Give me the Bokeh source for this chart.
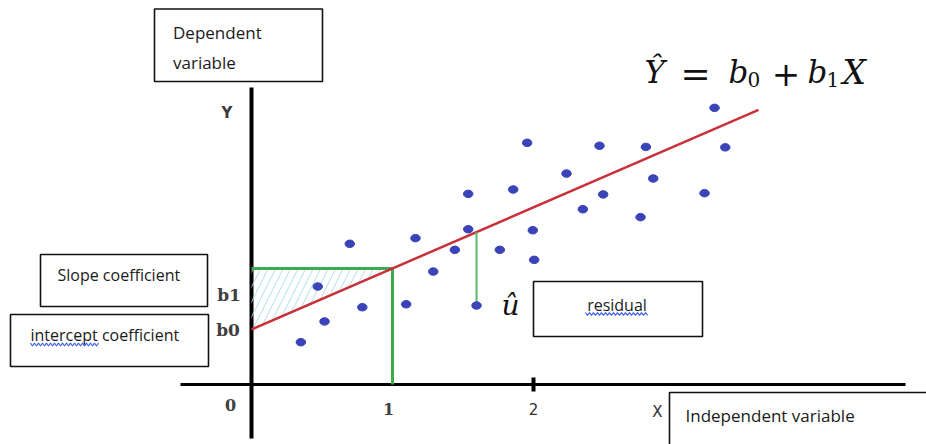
import numpy as np
from bokeh.plotting import figure
from bokeh.models import Range1d, ColumnDataSource
from bokeh.core.properties import value
from bokeh.embed import file_html
from bokeh.resources import INLINE

# ---------------- data (chart units) ----------------
x_vals = [0.350, 0.518, 0.470, 0.697, 0.786, 1.097, 1.163, 1.289, 1.442, 1.537,
          1.537, 1.596, 1.761, 1.856, 1.995, 2.005, 1.955, 2.234, 2.350, 2.468,
          2.494, 2.759, 2.797, 2.849, 3.213, 3.284, 3.360]
y_vals = [0.300, 0.447, 0.695, 0.998, 0.548, 0.569, 1.038, 0.801, 0.955, 1.101,
          1.352, 0.560, 0.955, 1.383, 1.094, 0.884, 1.714, 1.496, 1.243, 1.693,
          1.348, 1.187, 1.685, 1.461, 1.357, 1.962, 1.682]
b0 = 0.39            # intercept
b1 = 0.433           # slope
line_x = [0.0, 3.596]
residual_index = 11
x_ticks = ["0", "1", "2"]
box_texts = ["Dependent variable", "Slope coefficient", "intercept coefficient",
             "residual", "Independent variable"]

# ---------------- layout helpers (picture pixels -> chart units) ----------------
S = 141.0
OX, OY = 251.0, 384.0
def dx(px):
    return (px - OX) / S
def dy(py):
    return (OY - py) / S

W, H = 926, 444
p = figure(width=W, height=H, x_range=Range1d(dx(0), dx(W)),
           y_range=Range1d(dy(H), dy(0)), x_axis_type=None, y_axis_type=None,
           toolbar_location=None, output_backend="svg", min_border=0,
           outline_line_color=None, background_fill_color="white",
           border_fill_color="white")
p.grid.visible = False

# ---------------- boxes ----------------
boxes = dict(left=[dx(154), dx(40), dx(10), dx(533), dx(669)],
             right=[dx(322), dx(207), dx(208), dx(702), dx(960)],
             top=[dy(8.5), dy(254), dy(314), dy(281), dy(392)],
             bottom=[dy(81), dy(306), dy(366), dy(336), dy(480)])
p.quad(source=ColumnDataSource(boxes), left="left", right="right", top="top",
       bottom="bottom", fill_color="white", line_color="#111111", line_width=1.6)

# ---------------- axes ----------------
p.segment(x0=[0], y0=[dy(438)], x1=[0], y1=[dy(87)], line_color="black", line_width=4)
p.segment(x0=[dx(180)], y0=[0], x1=[dx(905)], y1=[0], line_color="black", line_width=3)
p.segment(x0=[2], y0=[dy(391)], x1=[2], y1=[dy(377)], line_color="black", line_width=4)

# ---------------- hatched triangle ----------------
yb = b0 + b1
p.patch(x=[0, 1, 0], y=[yb, yb, b0], fill_alpha=0, line_color=None,
        hatch_pattern="/", hatch_color="#b3dde6", hatch_weight=1.0, hatch_scale=15)

# ---------------- green guides ----------------
p.line(x=[0, 1], y=[yb, yb], line_color="#3caa4e", line_width=3)
p.line(x=[1, 1], y=[0, yb], line_color="#3caa4e", line_width=3)

# ---------------- regression line ----------------
line_y = [b0 + b1 * v for v in line_x]
p.line(x=line_x, y=line_y, line_color="#c9313a", line_width=2.5)

# ---------------- residual ----------------
rx = x_vals[residual_index]
p.line(x=[rx, rx], y=[y_vals[residual_index], b0 + b1 * rx],
       line_color="#5ab86a", line_width=2)

# ---------------- points ----------------
p.ellipse(x=x_vals, y=y_vals, width=9.5, height=7.5, width_units="screen",
          height_units="screen", fill_color="#3a43b8", line_color="#3a43b8")

# ---------------- texts (y = visual middle) ----------------
def txt(x, y, s, font, size, color="#1a1a1a", align="left", style="normal"):
    p.text(x=[x], y=[y], text=[s], text_font=value(font), text_font_size=f"{size}px",
           text_color=color, text_align=align, text_baseline="middle",
           text_font_style=style)

dep1, dep2 = box_texts[0].split(" ")
txt(dx(172.5), dy(32), dep1, "Open Sans", 17)
txt(dx(172.5), dy(61.5), dep2, "Open Sans", 17)
txt(dx(57), dy(274), box_texts[1], "Open Sans", 16)
txt(dx(30), dy(334), box_texts[2], "Open Sans", 16)
txt(dx(616.5), dy(304), box_texts[3], "Open Sans", 16, align="center")
txt(dx(685), dy(415), box_texts[4], "Open Sans", 17)

# spell-check squiggles
def squiggle(x0, x1, ypx):
    xs = np.arange(x0, x1 + 0.1, 2.0)
    ys = [ypx + (1.5 if i % 2 else -1.5) for i in range(len(xs))]
    p.line(x=[dx(v) for v in xs], y=[dy(v) for v in ys], line_color="#3d5cf2",
           line_width=1.2)
squiggle(30, 98, 344)
squiggle(585, 648, 313.5)

# axis letters and tick labels
txt(dx(226.5), dy(112.5), "Y", "DejaVu Sans", 15, color="#3a3a3a", align="center",
    style="bold")
txt(dx(657), dy(411), "X", "DejaVu Sans", 15, color="#333333", align="center")
txt(dx(230), dy(404.5), x_ticks[0], "DejaVu Serif", 16, color="#404040",
    align="center", style="bold")
txt(1 - 4 / S, dy(408), x_ticks[1], "DejaVu Serif", 16, color="#404040",
    align="center", style="bold")
txt(2, dy(408.5), x_ticks[2], "DejaVu Sans", 15, color="#333333", align="center")
txt(dx(228.5), dy(294.5), "b1", "DejaVu Serif", 17, color="#404040", align="center",
    style="bold")
txt(dx(227.5), dy(329), "b0", "DejaVu Serif", 17, color="#404040", align="center",
    style="bold")

# math
txt(dx(510), dy(305), "\u00fb", "DejaVu Serif", 28, color="#111111", align="center",
    style="italic")
# equation  Y-hat = b0 + b1 X
eq_mid = dy(71.5)
sub_mid = dy(78.5)
txt(dx(644), eq_mid, "\u0176", "DejaVu Serif", 31, color="#111111", style="italic")
txt(dx(695), dy(72.5), "=", "DejaVu Serif", 36, color="#111111", align="center")
txt(dx(728), eq_mid, "b", "DejaVu Serif", 31, color="#111111", style="italic")
txt(dx(747), sub_mid, "0", "DejaVu Serif", 20, color="#111111")
txt(dx(785.5), dy(72.5), "+", "DejaVu Serif", 34, color="#111111", align="center")
txt(dx(807), eq_mid, "b", "DejaVu Serif", 31, color="#111111", style="italic")
txt(dx(826), sub_mid, "1", "DejaVu Serif", 20, color="#111111")
txt(dx(842), eq_mid, "X", "DejaVu Serif", 33, color="#111111", style="italic")

open("out.html", "w").write(file_html(p, INLINE))
